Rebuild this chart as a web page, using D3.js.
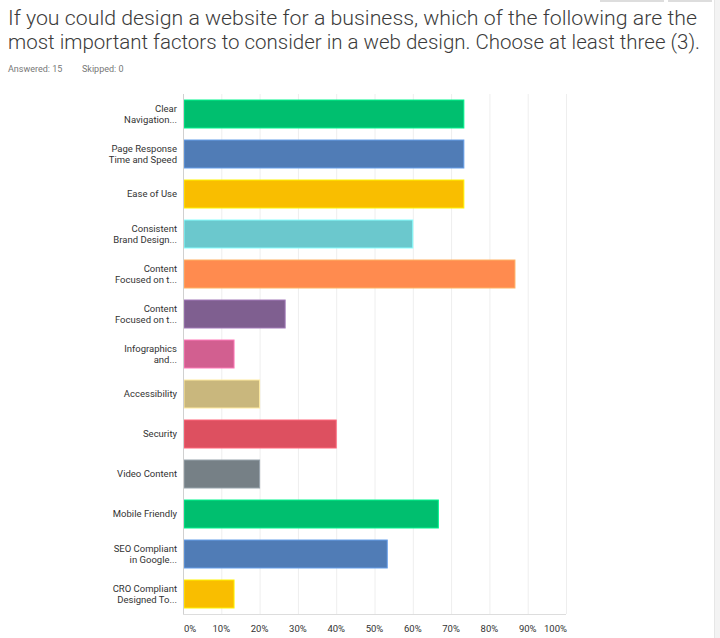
<!DOCTYPE html>
<html><head><meta charset="utf-8">
<script src="https://cdn.jsdelivr.net/npm/d3@7"></script>
<style>body{margin:0;background:#fff;} svg{display:block;}</style>
</head><body>
<svg id="chart" width="720" height="638"></svg>
<script>
const titleLines = ["If you could design a website for a business, which of the following are the",
  "most important factors to consider in a web design. Choose at least three (3)."];
const categories = [
  ["Clear", "Navigation..."],
  ["Page Response", "Time and Speed"],
  ["Ease of Use"],
  ["Consistent", "Brand Design..."],
  ["Content", "Focused on t..."],
  ["Content", "Focused on t..."],
  ["Infographics", "and..."],
  ["Accessibility"],
  ["Security"],
  ["Video Content"],
  ["Mobile Friendly"],
  ["SEO Compliant", "in Google..."],
  ["CRO Compliant", "Designed To..."]
];
const values = [73.33, 73.33, 73.33, 60.00, 86.67, 26.67, 13.33, 20.00, 40.00, 20.00, 66.67, 53.33, 13.33];
const colors = ["#00BF6F","#507CB6","#F9BE00","#6BC8CD","#FF8B4F","#7F5F90","#D25F90","#C9B77D","#DD5060","#768086","#00BF6F","#507CB6","#F9BE00"];
const tickValues = [0,10,20,30,40,50,60,70,80,90,100];
const tickLabels = ["0%","10%","20%","30%","40%","50%","60%","70%","80%","90%","100%"];

const svg = d3.select("#chart");
const font = "Roboto, 'Noto Sans', sans-serif";

// top-right decorations
svg.append("rect").attr("x",600).attr("y",0).attr("width",64).attr("height",2).attr("fill","#ddd");
svg.append("rect").attr("x",668).attr("y",0).attr("width",44).attr("height",2).attr("fill","#ddd");
svg.append("rect").attr("x",714).attr("y",0).attr("width",6).attr("height",638).attr("fill","#f3f3f3");
svg.append("line").attr("x1",714.5).attr("x2",714.5).attr("y1",0).attr("y2",638).attr("stroke","#e6e6e6");

// title
const titleY = [25, 49];
titleLines.forEach((t,i)=>{
  svg.append("text").attr("x",8).attr("y",titleY[i])
    .attr("font-family",font).attr("font-weight",300).attr("font-size",20.5)
    .attr("fill","#3b3b3b")
    .attr("textLength", i===0 ? 689 : 692).attr("lengthAdjust","spacingAndGlyphs")
    .text(t);
});
svg.append("text").attr("x",8).attr("y",72).attr("font-family",font).attr("font-size",9)
  .attr("fill","#777").text("Answered: 15");
svg.append("text").attr("x",82).attr("y",72).attr("font-family",font).attr("font-size",9)
  .attr("fill","#777").text("Skipped: 0");

const pLeft = 183, pRight = 566, pTop = 94, pBottom = 614;
const x = d3.scaleLinear().domain([0,100]).range([pLeft,pRight]);
const y = d3.scaleBand().domain(d3.range(categories.length)).range([pTop,pBottom]).paddingInner(0.3).paddingOuter(0.15);

// gridlines
svg.append("g").selectAll("line").data(tickValues.slice(1)).join("line")
  .attr("x1",d=>x(d)+0.5).attr("x2",d=>x(d)+0.5).attr("y1",pTop).attr("y2",pBottom)
  .attr("stroke","#eeeeee").attr("stroke-width",1);

// bars
svg.append("g").selectAll("rect").data(values).join("rect")
  .attr("x",x(0)+1).attr("y",(d,i)=>y(i))
  .attr("width",d=>x(d)-x(0)-1).attr("height",y.bandwidth())
  .attr("fill",(d,i)=>colors[i])
  .attr("stroke",(d,i)=>d3.color(colors[i]).brighter(0.7).formatHex())
  .attr("stroke-width",1);

// axes lines
svg.append("line").attr("x1",pLeft+0.5).attr("x2",pLeft+0.5).attr("y1",pTop).attr("y2",pBottom)
  .attr("stroke","#d0d0d0");
svg.append("line").attr("x1",pLeft).attr("x2",pRight).attr("y1",pBottom+0.5).attr("y2",pBottom+0.5)
  .attr("stroke","#dddddd");

// category labels
const lab = svg.append("g");
categories.forEach((lines,i)=>{
  const cy = y(i) + y.bandwidth()/2;
  const n = lines.length;
  lines.forEach((l,j)=>{
    lab.append("text").attr("x",177).attr("y",cy + 3 + (j - (n-1)/2)*11)
      .attr("text-anchor","end").attr("font-family",font).attr("font-size",9.5)
      .attr("fill","#333").text(l);
  });
});

// tick labels
svg.append("g").selectAll("text").data(tickValues).join("text")
  .attr("x",d=> d===0 ? x(d)+1 : (d===100 ? x(d)+1 : x(d)))
  .attr("y",632)
  .attr("text-anchor",d=> d===0 ? "start" : (d===100 ? "end" : "middle"))
  .attr("font-family",font).attr("font-size",9.5).attr("fill","#333")
  .text((d,i)=>tickLabels[i]);
</script>
</body></html>
